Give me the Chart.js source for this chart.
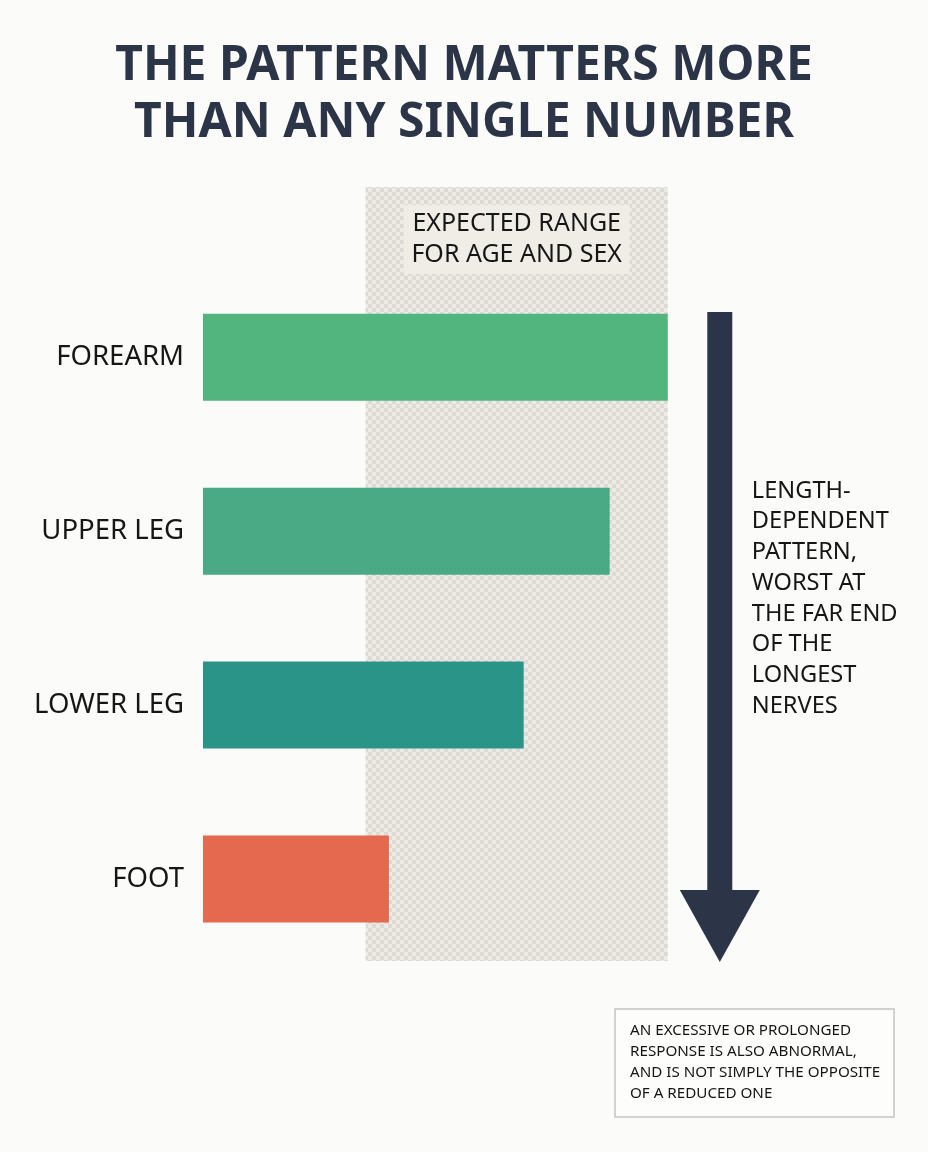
<!DOCTYPE html>
<html>
<head>
<meta charset="utf-8">
<script src="https://cdn.jsdelivr.net/npm/chart.js@4.4.1/dist/chart.umd.min.js"></script>
<style>
  html, body { margin: 0; padding: 0; background: #fbfbfa; }
  #wrap { width: 928px; height: 1152px; position: relative; }
</style>
</head>
<body>
<div id="wrap"><canvas id="chart" width="928" height="1152"></canvas></div>
<script>
// data
const titleLines = ['THE PATTERN MATTERS MORE', 'THAN ANY SINGLE NUMBER'];
const nerveSites = ['FOREARM', 'UPPER LEG', 'LOWER LEG', 'FOOT'];
const responseValues = [100, 87.5, 69, 40];
const barColors = ['#52b57d', '#4aaa86', '#2a9489', '#e4694e'];
const expectedRange = [35, 100];
const rangeLabel = ['EXPECTED RANGE', 'FOR AGE AND SEX'];
const arrowNote = ['LENGTH-', 'DEPENDENT', 'PATTERN,', 'WORST AT', 'THE FAR END', 'OF THE', 'LONGEST', 'NERVES'];
const footNote = ['AN EXCESSIVE OR PROLONGED', 'RESPONSE IS ALSO ABNORMAL,', 'AND IS NOT SIMPLY THE OPPOSITE', 'OF A REDUCED ONE'];

const FONT = '"Noto Sans", "Open Sans", sans-serif';
const NAVY = '#2c3547';

function checkerPattern(ctx) {
    const c = document.createElement('canvas');
    c.width = 8; c.height = 8;
    const g = c.getContext('2d');
    g.fillStyle = '#ecebe5';
    g.fillRect(0, 0, 8, 8);
    g.fillStyle = '#dcdad3';
    g.fillRect(0, 0, 4, 4);
    g.fillRect(4, 4, 4, 4);
    return ctx.createPattern(c, 'repeat');
}

// range band behind the bars
const rangeBand = {
    id: 'rangeBand',
    beforeDatasetsDraw(chart) {
        const { ctx, scales: { x } } = chart;
        const x0 = x.getPixelForValue(expectedRange[0]);
        const x1 = x.getPixelForValue(expectedRange[1]);
        const top = 187;
        const bottom = 961;
        ctx.save();
        ctx.fillStyle = checkerPattern(ctx);
        ctx.fillRect(x0, top, x1 - x0, bottom - top);

        const cx = (x0 + x1) / 2;
        ctx.fillStyle = '#efede6';
        ctx.fillRect(cx - 113, 205, 226, 69);
        ctx.fillStyle = '#161616';
        ctx.font = '25px ' + FONT;
        ctx.textAlign = 'center';
        ctx.textBaseline = 'middle';
        rangeLabel.forEach((t, i) => ctx.fillText(t, cx, 224 + i * 31));
        ctx.restore();
    }
};

// arrow, side note and foot note
const annotations = {
    id: 'annotations',
    afterDraw(chart) {
        const { ctx, scales: { x } } = chart;
        const ax = x.getPixelForValue(111.2);
        const top = 312;
        const tip = 962;
        ctx.save();
        ctx.fillStyle = NAVY;
        ctx.fillRect(ax - 12.5, top, 25, tip - top - 68);
        ctx.beginPath();
        ctx.moveTo(ax - 40, tip - 72);
        ctx.lineTo(ax + 40, tip - 72);
        ctx.lineTo(ax, tip);
        ctx.closePath();
        ctx.fill();

        ctx.fillStyle = '#161616';
        ctx.font = '23.6px ' + FONT;
        ctx.textAlign = 'left';
        ctx.textBaseline = 'middle';
        arrowNote.forEach((t, i) => ctx.fillText(t, ax + 32, 491 + i * 30.7));

        ctx.strokeStyle = '#c4c4c4';
        ctx.lineWidth = 1.5;
        ctx.fillStyle = '#fdfdfc';
        ctx.fillRect(615, 1009, 279, 108);
        ctx.strokeRect(615, 1009, 279, 108);
        ctx.fillStyle = '#161616';
        ctx.font = '15.2px ' + FONT;
        footNote.forEach((t, i) => ctx.fillText(t, 630, 1031 + i * 21));
        ctx.restore();
    }
};

const ctx = document.getElementById('chart').getContext('2d');
new Chart(ctx, {
    type: 'bar',
    data: {
        labels: nerveSites,
        datasets: [{
            data: responseValues,
            backgroundColor: barColors,
            borderWidth: 0,
            barPercentage: 1,
            categoryPercentage: 0.5
        }]
    },
    options: {
        indexAxis: 'y',
        responsive: false,
        animation: false,
        devicePixelRatio: 1,
        layout: { padding: { left: 0, right: 0, top: 0, bottom: 186 } },
        scales: {
            x: { display: false, min: 0, max: 156 },
            y: {
                afterFit(scale) { scale.width = 203; },
                grid: { display: false, drawTicks: false },
                border: { display: false },
                ticks: {
                    padding: 19,
                    color: '#161616',
                    font: { family: FONT, size: 27.5 }
                }
            }
        },
        plugins: {
            legend: { display: false },
            tooltip: { enabled: false },
            title: {
                display: true,
                text: titleLines,
                color: NAVY,
                font: { family: FONT, size: 48, weight: 'bold', lineHeight: 1.19 },
                padding: { top: 38, bottom: 118 }
            }
        }
    },
    plugins: [rangeBand, annotations]
});
</script>
</body>
</html>
